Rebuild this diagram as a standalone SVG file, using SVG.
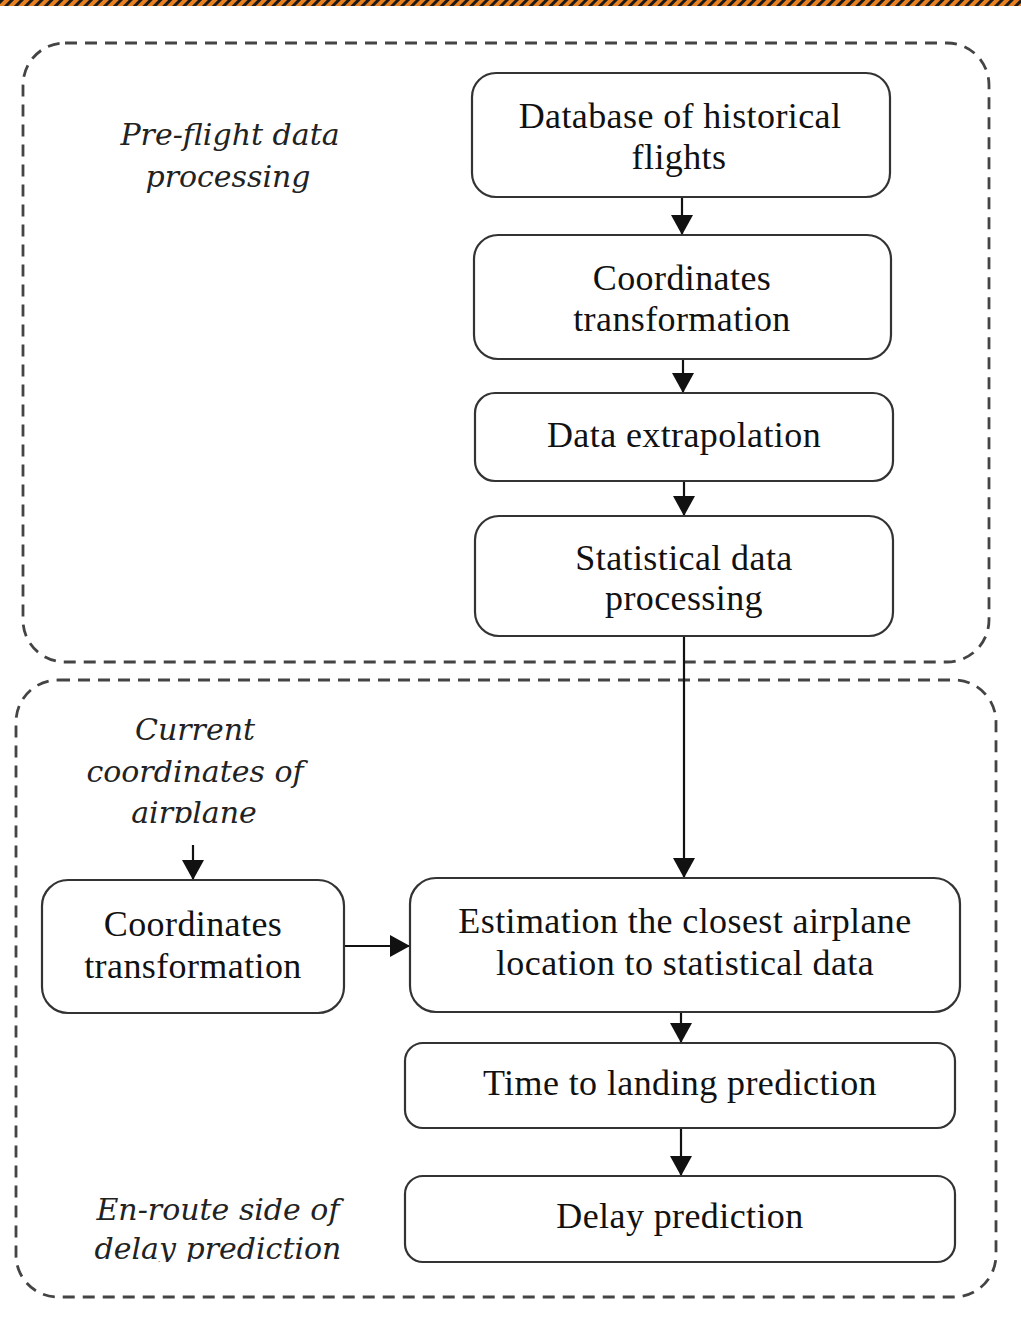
<svg xmlns="http://www.w3.org/2000/svg" width="1021" height="1318" viewBox="0 0 1021 1318">
  <style>
    .region { fill: none; stroke: #444; stroke-width: 2.8; stroke-dasharray: 12 8; }
    .box { fill: #fff; stroke: #333; stroke-width: 2.2; }
    .label { font-family: "Liberation Serif", "Times New Roman", serif; font-size: 36px; letter-spacing: 0.4px; fill: #111; text-anchor: middle; }
    .note { font-family: "DejaVu Serif", "Liberation Serif", serif; font-style: italic; font-size: 30px; fill: #222; text-anchor: middle; }
    .wire { fill: none; stroke: #111; stroke-width: 2.2; }
  </style>
  <defs>
    <pattern id="hazard" width="7" height="7" patternUnits="userSpaceOnUse" patternTransform="rotate(45)">
      <rect width="7" height="7" fill="#e9801f"/>
      <rect width="3" height="7" fill="#1a1a1a"/>
    </pattern>
    <marker id="arrow" viewBox="0 0 20 22" refX="20" refY="11" markerWidth="20" markerHeight="22" markerUnits="userSpaceOnUse" orient="auto">
      <path d="M0,0 L20,11 L0,22 Z" fill="#111"/>
    </marker>
    <clipPath id="clipCurrent"><rect x="0" y="700" width="400" height="123"/></clipPath>
    <clipPath id="clipEnroute"><rect x="0" y="1180" width="400" height="82"/></clipPath>
  </defs>

  <rect width="1021" height="1318" fill="#fff"/>
  <!-- hazard strip along the top edge -->
  <rect x="0" y="0" width="1021" height="6" fill="url(#hazard)"/>

  <!-- dashed regions -->
  <g id="preflight-region">
    <rect class="region" x="23" y="43" width="966" height="619" rx="42"/>
    <text class="note" x="230" y="145">Pre-flight data</text>
    <text class="note" x="228" y="187">processing</text>
  </g>
  <g id="enroute-region">
    <rect class="region" x="16" y="680" width="980" height="617" rx="42"/>
    <g clip-path="url(#clipCurrent)">
      <text class="note" x="195" y="740">Current</text>
      <text class="note" x="195" y="782">coordinates of</text>
      <text class="note" x="194" y="823">airplane</text>
    </g>
    <g clip-path="url(#clipEnroute)">
      <text class="note" x="218" y="1220">En-route side of</text>
      <text class="note" x="218" y="1259">delay prediction</text>
    </g>
  </g>

  <!-- connectors -->
  <g id="connectors">
    <line class="wire" x1="682" y1="197" x2="682" y2="235" marker-end="url(#arrow)"/>
    <line class="wire" x1="683" y1="359" x2="683" y2="393" marker-end="url(#arrow)"/>
    <line class="wire" x1="684" y1="481" x2="684" y2="516" marker-end="url(#arrow)"/>
    <line class="wire" x1="684" y1="636" x2="684" y2="878" marker-end="url(#arrow)"/>
    <line class="wire" x1="193" y1="845" x2="193" y2="880" marker-end="url(#arrow)"/>
    <line class="wire" x1="344" y1="946" x2="410" y2="946" marker-end="url(#arrow)"/>
    <line class="wire" x1="681" y1="1012" x2="681" y2="1043" marker-end="url(#arrow)"/>
    <line class="wire" x1="681" y1="1128" x2="681" y2="1176" marker-end="url(#arrow)"/>
  </g>

  <!-- pre-flight nodes -->
  <g id="n-database">
    <rect class="box" x="472" y="73" width="418" height="124" rx="24"/>
    <text class="label" x="680" y="128">Database of historical</text>
    <text class="label" x="679" y="169">flights</text>
  </g>
  <g id="n-coords-pre">
    <rect class="box" x="474" y="235" width="417" height="124" rx="24"/>
    <text class="label" x="682" y="290">Coordinates</text>
    <text class="label" x="682" y="331">transformation</text>
  </g>
  <g id="n-extrapolation">
    <rect class="box" x="475" y="393" width="418" height="88" rx="20"/>
    <text class="label" x="684" y="447">Data extrapolation</text>
  </g>
  <g id="n-statistics">
    <rect class="box" x="475" y="516" width="418" height="120" rx="24"/>
    <text class="label" x="684" y="570">Statistical data</text>
    <text class="label" x="684" y="610">processing</text>
  </g>

  <!-- en-route nodes -->
  <g id="n-coords-live">
    <rect class="box" x="42" y="880" width="302" height="133" rx="26"/>
    <text class="label" x="193" y="936">Coordinates</text>
    <text class="label" x="193" y="978">transformation</text>
  </g>
  <g id="n-estimation">
    <rect class="box" x="410" y="878" width="550" height="134" rx="26"/>
    <text class="label" x="685" y="933">Estimation the closest airplane</text>
    <text class="label" x="685" y="975">location to statistical data</text>
  </g>
  <g id="n-landing">
    <rect class="box" x="405" y="1043" width="550" height="85" rx="18"/>
    <text class="label" x="680" y="1095">Time to landing prediction</text>
  </g>
  <g id="n-delay">
    <rect class="box" x="405" y="1176" width="550" height="86" rx="18"/>
    <text class="label" x="680" y="1228">Delay prediction</text>
  </g>
</svg>
